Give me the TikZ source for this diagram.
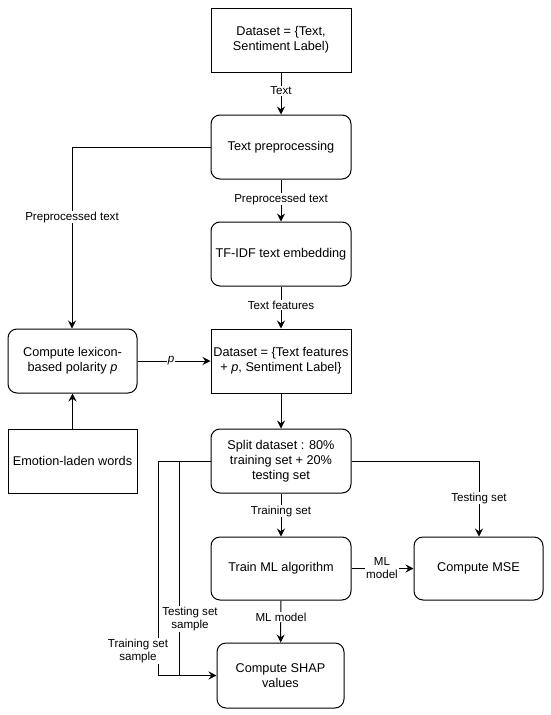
\documentclass[tikz,border=0pt]{standalone}
\usepackage{fontspec}
\setmainfont{Liberation Sans}
\usetikzlibrary{arrows.meta}
\begin{document}
\begin{tikzpicture}[x=1pt,y=-1pt,
  box/.style={draw, line width=1pt, minimum width=140pt, minimum height=64pt, align=center, inner sep=1pt, font=\fontsize{12.7}{15}\selectfont},
  rbox/.style={box, rounded corners=9pt},
  arr/.style={draw, line width=1pt, -{Stealth[length=8pt,width=8pt,inset=2.8pt]}},
  ln/.style={draw, line width=1pt},
  lbl/.style={fill=white, inner sep=1pt, align=center, font=\fontsize{11.6}{13.5}\selectfont}
]
\useasboundingbox (0,0) rectangle (550,715);

\node[box]  (ds)    at (281,40) {Dataset = \{Text,\\Sentiment Label)};
\node[rbox] (pre)   at (281,147) {Text preprocessing};
\node[rbox] (tfidf) at (281,254) {TF-IDF text embedding};
\node[box]  (dsf)   at (281,361) {Dataset = \{Text features\\+ \textit{p}, Sentiment Label\}};
\node[rbox, minimum width=129pt] (lex) at (72.5,361) {Compute lexicon-\\based polarity \textit{p}};
\node[box, minimum width=129pt]  (emo) at (72.5,461) {Emotion-laden words};
\node[rbox] (split) at (281,461) {Split dataset : 80\%\\training set + 20\%\\testing set};
\node[rbox, minimum height=63pt] (train) at (281,568.5) {Train ML algorithm};
\node[rbox, minimum width=129pt, minimum height=63pt] (mse) at (478.5,568.5) {Compute MSE};
\node[rbox, minimum width=127pt, minimum height=65pt] (shap) at (280.5,675.5) {Compute SHAP\\values};

\coordinate (cpre) at (72,147);
\coordinate (cmse) at (479,461);
\coordinate (ctr) at (158,675.5);
\coordinate (cte) at (179,675.5);

\draw[arr] (ds) -- (pre);
\draw[arr] (pre) -- (tfidf);
\draw[arr] (tfidf) -- (dsf);
\draw[arr] (pre.west) -- (cpre) -- (lex.north -| cpre);
\draw[arr] (lex) -- (dsf);
\draw[arr] (emo) -- (lex);
\draw[arr] (dsf) -- (split);
\draw[arr] (split.east) -- (cmse) -- (mse.north -| cmse);
\draw[arr] (split) -- (train);
\draw[arr] (train) -- (mse);
\draw[arr] (train) -- (shap);
\draw[ln] (split.west) -| (ctr);
\draw[ln] (split.west) -| (cte);
\draw[arr] (ctr) -- (shap.west);

\node[lbl] (l1) at (281,91) {Text};
\node[lbl] (l2) at (281,199) {Preprocessed text};
\node[lbl] (l3) at (281,305) {Text features};
\node[lbl] (l4) at (72,217) {Preprocessed text};
\node[lbl] (l5) at (171,361) {\textit{p}};
\node[lbl] (l6) at (479,498) {Testing set};
\node[lbl] (l7) at (281,511) {Training set};
\node[lbl] (l8) at (382,568) {ML\\model};
\node[lbl] (l9) at (281,617) {ML model};
\node[lbl] (l10) at (190,619) {Testing set\\sample};
\node[lbl] (l11) at (138,651) {Training set\\sample};
\end{tikzpicture}
\end{document}
